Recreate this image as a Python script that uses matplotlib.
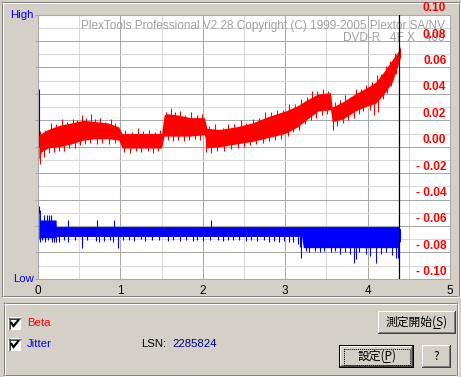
import numpy as np
import matplotlib.pyplot as plt
from matplotlib.patches import Rectangle

# ---- data ----
beta_x = [0.01, 0.04, 0.12, 0.25, 0.40, 0.55, 0.70, 0.85, 0.98, 1.02,
          1.10, 1.30, 1.50, 1.53, 1.56, 1.70, 1.85, 2.02, 2.05, 2.20,
          2.40, 2.60, 2.80, 3.00, 3.15, 3.25, 3.40, 3.55, 3.57, 3.70,
          3.85, 4.00, 4.10, 4.20, 4.30, 4.37, 4.40]
beta_hi = [0.008, 0.010, 0.013, 0.016, 0.018, 0.020, 0.019, 0.018, 0.015, 0.010,
           0.010, 0.010, 0.010, 0.024, 0.025, 0.024, 0.022, 0.022, 0.014, 0.013,
           0.015, 0.018, 0.023, 0.027, 0.031, 0.035, 0.040, 0.041, 0.030, 0.034,
           0.040, 0.045, 0.049, 0.057, 0.066, 0.072, 0.076]
beta_lo = [-0.010, -0.004, -0.001, 0.000, 0.002, 0.005, 0.006, 0.006, 0.005, -0.001,
           -0.001, -0.001, -0.001, 0.008, 0.008, 0.008, 0.008, 0.009, -0.001, 0.000,
           0.002, 0.004, 0.007, 0.010, 0.015, 0.020, 0.027, 0.028, 0.019, 0.021,
           0.027, 0.031, 0.033, 0.040, 0.049, 0.062, 0.068]

beta_up_x = [0.03, 0.09, 0.16, 0.22, 0.29, 0.35, 0.42, 0.47, 0.53, 0.58, 0.64, 0.69,
             0.75, 0.81, 0.88, 0.93, 1.06, 1.14, 1.21, 1.27, 1.35, 1.42, 1.48, 1.55,
             1.61, 1.66, 1.72, 1.79, 1.86, 1.93, 1.99, 2.08, 2.15, 2.24, 2.31, 2.38,
             2.46, 2.53, 2.61, 2.68, 2.75, 2.83, 2.90, 2.97, 3.05, 3.12, 3.19, 3.27,
             3.33, 3.39, 3.46, 3.52, 3.60, 3.66, 3.73, 3.79, 3.86, 3.92, 3.98, 4.05,
             4.11, 4.16, 4.22, 4.27, 4.33, 4.38]
beta_up_v = [0.012, 0.013, 0.018, 0.017, 0.021, 0.019, 0.021, 0.020, 0.024, 0.022, 0.0245, 0.021,
             0.022, 0.019, 0.021, 0.018, 0.013, 0.011, 0.014, 0.012, 0.013, 0.011, 0.013, 0.026,
             0.0295, 0.026, 0.027, 0.024, 0.026, 0.024, 0.025, 0.016, 0.017, 0.0145, 0.017, 0.017,
             0.020, 0.018, 0.021, 0.022, 0.026, 0.026, 0.028, 0.028, 0.032, 0.032, 0.036, 0.038,
             0.042, 0.042, 0.044, 0.042, 0.034, 0.035, 0.039, 0.038, 0.044, 0.044, 0.047, 0.049,
             0.054, 0.055, 0.061, 0.065, 0.071, 0.076]
beta_dn_x = [0.02, 0.07, 0.13, 0.19, 0.26, 0.32, 0.38, 0.45, 0.51, 0.57, 0.63, 0.72,
             0.78, 0.86, 0.94, 1.04, 1.12, 1.19, 1.25, 1.33, 1.39, 1.46, 1.58, 1.64,
             1.70, 1.77, 1.83, 1.90, 1.97, 2.04, 2.10, 2.17, 2.26, 2.34, 2.43, 2.50,
             2.57, 2.65, 2.73, 2.80, 2.88, 2.95, 3.03, 3.10, 3.17, 3.24, 3.31, 3.37,
             3.45, 3.51, 3.58, 3.63, 3.70, 3.76, 3.83, 3.89, 3.95, 4.03, 4.08, 4.13,
             4.19, 4.24, 4.29, 4.35]
beta_dn_v = [-0.013, -0.008, -0.005, -0.004, -0.003, -0.003, -0.001, -0.001, 0.001, 0.002, 0.003, 0.002,
             0.003, 0.002, 0.003, -0.004, -0.005, -0.003, -0.004, -0.003, -0.005, -0.003, 0.005, 0.004,
             0.005, 0.004, 0.005, 0.006, 0.005, -0.004, -0.005, -0.003, -0.003, -0.002, -0.001, 0.000,
             0.001, 0.002, 0.003, 0.004, 0.005, 0.006, 0.008, 0.011, 0.013, 0.017, 0.020, 0.022,
             0.024, 0.025, 0.013, 0.016, 0.018, 0.020, 0.022, 0.025, 0.027, 0.028, 0.024, 0.026,
             0.036, 0.041, 0.046, 0.055]

jit_x = [0.010, 0.030, 0.031, 0.220, 0.221, 3.200, 3.220, 4.375, 4.376, 4.400]
jit_hi = [-0.048, -0.048, -0.0555, -0.0555, -0.0605, -0.0605, -0.0605, -0.0605, -0.062, -0.062]
jit_lo = [-0.070, -0.070, -0.069, -0.069, -0.068, -0.068, -0.0765, -0.0765, -0.072, -0.072]

jit_dn_x = [0.02, 0.05, 0.09, 0.12, 0.17, 0.19, 0.22, 0.26, 0.32, 0.37, 0.45, 0.54,
            0.59, 0.70, 0.74, 0.80, 0.87, 0.91, 0.97, 1.03, 1.10, 1.17, 1.25, 1.30,
            1.38, 1.47, 1.58, 1.64, 1.72, 1.80, 1.88, 1.93, 2.00, 2.09, 2.18, 2.25,
            2.31, 2.37, 2.44, 2.52, 2.58, 2.66, 2.74, 2.80, 2.87, 2.93, 2.99, 3.05,
            3.10, 3.15, 3.18, 3.19, 3.25, 3.29, 3.36, 3.42, 3.47, 3.55, 3.60, 3.66,
            3.72, 3.79, 3.83, 3.86, 3.90, 3.98, 4.03, 4.10, 4.16, 4.22, 4.30, 4.34, 4.37]
jit_dn_v = [-0.0725, -0.071, -0.0725, -0.071, -0.0725, -0.0725, -0.072, -0.0725, -0.071, -0.072, -0.0705, -0.0765,
            -0.071, -0.0715, -0.072, -0.0715, -0.0705, -0.072, -0.0765, -0.071, -0.0705, -0.0715, -0.070, -0.0715,
            -0.0705, -0.0705, -0.0715, -0.0705, -0.0715, -0.071, -0.0715, -0.0705, -0.0715, -0.0705, -0.0705, -0.0715,
            -0.0705, -0.071, -0.0705, -0.0715, -0.0705, -0.0715, -0.0705, -0.072, -0.0715, -0.072, -0.0715, -0.072,
            -0.0725, -0.0735, -0.076, -0.084, -0.079, -0.080, -0.079, -0.080, -0.079, -0.080, -0.079, -0.081,
            -0.080, -0.081, -0.088, -0.085, -0.080, -0.081, -0.083, -0.088, -0.081, -0.080, -0.082, -0.084, -0.084]
jit_up_x = [0.077, 0.106, 0.13, 0.16, 0.37, 0.71, 0.92, 2.10]
jit_up_v = [-0.052, -0.052, -0.052, -0.052, -0.0555, -0.0555, -0.0555, -0.0555]

marker_x = 4.385
x_ticks = [0, 1, 2, 3, 4, 5]
y_major = [-0.10, -0.08, -0.06, -0.04, -0.02, 0.00, 0.02, 0.04, 0.06, 0.08, 0.10]
y_labels = ['- 0.10', '- 0.08', '- 0.06', '- 0.04', '- 0.02', '0.00',
            '0.02', '0.04', '0.06', '0.08', '0.10']

W, H = 461, 377
face = '#d4d0c8'
red = '#ff0000'
blue = '#0000ff'
ui = ['Liberation Sans', 'DejaVu Sans']
cjk = ['Noto Sans CJK JP', 'DejaVu Sans']

fig = plt.figure(figsize=(W / 100, H / 100), dpi=100)
fig.patch.set_facecolor(face)
bg = fig.add_axes([0, 0, 1, 1])
bg.set_xlim(0, W)
bg.set_ylim(H, 0)
bg.axis('off')


def hline(x0, x1, y, c, lw=1):
    bg.plot([x0, x1], [y, y], color=c, lw=0.72 * lw, solid_capstyle='butt')


def vline(x, y0, y1, c, lw=1):
    bg.plot([x, x], [y0, y1], color=c, lw=0.72 * lw, solid_capstyle='butt')


def etched(x0, y0, x1, y1):
    for off, c in [(0, '#808080'), (1, 'white')]:
        hline(x0 + off, x1 + off, y0 + off + 0.5, c)
        hline(x0 + off, x1 + off, y1 + off + 0.5, c)
        vline(x0 + off + 0.5, y0 + off, y1 + off, c)
        vline(x1 + off + 0.5, y0 + off, y1 + off + 1, c)


def button(x0, y0, x1, y1, text, default=False):
    if default:
        bg.add_patch(Rectangle((x0, y0), x1 - x0, y1 - y0, fc='black', ec='none'))
        x0, y0, x1, y1 = x0 + 1, y0 + 1, x1 - 1, y1 - 1
    bg.add_patch(Rectangle((x0, y0), x1 - x0, y1 - y0, fc='#404040', ec='none'))
    bg.add_patch(Rectangle((x0, y0), x1 - x0 - 1, y1 - y0 - 1, fc='white', ec='none'))
    bg.add_patch(Rectangle((x0 + 1, y0 + 1), x1 - x0 - 2, y1 - y0 - 2, fc='#808080', ec='none'))
    bg.add_patch(Rectangle((x0 + 1, y0 + 1), x1 - x0 - 3, y1 - y0 - 3, fc=face, ec='none'))
    bg.text((x0 + x1) / 2, (y0 + y1) / 2, text, ha='center', va='center',
            fontsize=8.5, family=cjk, color='black')


def checkbox(x0, y0):
    bg.add_patch(Rectangle((x0, y0), 13, 13, fc='white', ec='none'))
    hline(x0, x0 + 13, y0 + 0.5, '#808080')
    vline(x0 + 0.5, y0, y0 + 13, '#808080')
    hline(x0 + 1, x0 + 12, y0 + 1.5, '#404040')
    vline(x0 + 1.5, y0 + 1, y0 + 12, '#404040')
    bg.plot([x0 + 3.5, x0 + 5.5, x0 + 10], [y0 + 6, y0 + 9, y0 + 3.5],
            color='black', lw=1.6, solid_joinstyle='miter')


# window frames
etched(1, 1, 458, 295)
etched(3, 302, 456, 374)

# chart area
ax = fig.add_axes([38 / W, 1 - 278.7 / H, (450 - 38) / W, (278.7 - 14.7) / H])
ax.set_facecolor('white')
ax.set_xlim(0, 5)
ax.set_ylim(-0.10, 0.10)
ax.set_xticks(x_ticks)
ax.set_xticks(np.arange(0.5, 5, 1.0), minor=True)
ax.set_yticks(y_major)
ax.set_yticks(np.round(np.arange(-0.09, 0.1, 0.02), 3), minor=True)
ax.grid(which='minor', color='#d8d8d8', lw=0.75)
ax.grid(which='major', color='#a8a8a8', lw=0.75)
ax.set_axisbelow(True)
ax.tick_params(which='both', bottom=False, labelbottom=False, labelleft=False)
ax.tick_params(which='major', axis='y', left=True, length=2.2, width=0.75, color='#a8a8a8')
ax.tick_params(which='minor', axis='y', left=False)
for s in ax.spines.values():
    s.set_color('#a8a8a8')
    s.set_linewidth(0.75)

# header text (behind the traces)
t1 = ax.text(445, 29, 'PlexTools Professional V2.28 Copyright (C) 1999-2005 Plextor SA/NV',
             transform=bg.transData, ha='right', va='baseline', fontsize=8.5,
             family=ui, color='#a0a0a0', zorder=1.5)
t2 = ax.text(445, 41, 'DVD-R   4F X   400', transform=bg.transData, ha='right',
             va='baseline', fontsize=8.5, family=ui, color='#a0a0a0', zorder=1.5)
fig.canvas.draw()
fs = 8.5 * 361 / t1.get_window_extent().width
t1.set_fontsize(fs)
t2.set_fontsize(fs)

# traces
bx = np.array(beta_x)
ax.fill_between(bx, beta_lo, beta_hi, color=red, lw=0, zorder=3)
mid = (np.array(beta_lo) + np.array(beta_hi)) / 2
ax.vlines(beta_up_x, np.interp(beta_up_x, bx, mid), beta_up_v, color=red, lw=0.8, zorder=3)
ax.vlines(beta_dn_x, beta_dn_v, np.interp(beta_dn_x, bx, mid), color=red, lw=0.8, zorder=3)

jx = np.array(jit_x)
ax.fill_between(jx, jit_lo, jit_hi, color=blue, lw=0, zorder=3)
jmid = (np.array(jit_lo) + np.array(jit_hi)) / 2
ax.vlines(jit_dn_x, jit_dn_v, np.interp(jit_dn_x, jx, jmid), color=blue, lw=0.8, zorder=3)
ax.vlines(jit_up_x, np.interp(jit_up_x, jx, jmid), jit_up_v, color=blue, lw=0.8, zorder=3)
ax.vlines([0.012, 0.012], [0.0, -0.050], [0.044, -0.045], color='#0000b0', lw=0.8, zorder=2.5)

ax.axvline(marker_x, color='black', lw=0.9, zorder=4)

# right-hand scale
for v, lab in zip(y_major, y_labels):
    ax.text(4.955, v + 0.005, lab, ha='right', va='center', fontsize=8.6,
            fontweight='bold', family=ui, color=red, zorder=5, clip_on=False)

# x labels and High / Low
for v in x_ticks:
    bg.text(38 + v * 82.4, 294, str(v), ha='center', va='baseline',
            fontsize=8.5, family=ui, color='black')
bg.text(33.5, 18.5, 'High', ha='right', va='baseline', fontsize=8.2, family=ui, color=blue)
bg.text(33.5, 282.3, 'Low', ha='right', va='baseline', fontsize=8.2, family=ui, color=blue)

# bottom panel
checkbox(8, 317)
checkbox(8, 338)
bg.text(27, 326, 'Beta', ha='left', va='baseline', fontsize=8.2, family=ui, color=red)
bg.text(27, 347.3, 'Jitter', ha='left', va='baseline', fontsize=8.2, family=ui, color=blue)
bg.text(141, 347.3, 'LSN:', ha='left', va='baseline', fontsize=8.2, family=ui, color='black')
bg.text(172, 347.3, '2285824', ha='left', va='baseline', fontsize=8.2, family=ui, color='#000080')

button(378, 311, 456, 334, '測定開始(S)')
button(339, 345, 414, 368, '設定(P)', default=True)
button(422, 345, 451, 368, '?')
bg.add_patch(Rectangle((343.5, 348.5), 66, 16, fill=False, ec='black', lw=0.7, ls=(0, (1, 1))))
hline(433, 440, 328, 'black')
hline(383, 390, 361.5, 'black')

fig.savefig('out.png', dpi=100, facecolor=fig.get_facecolor())
plt.close(fig)
